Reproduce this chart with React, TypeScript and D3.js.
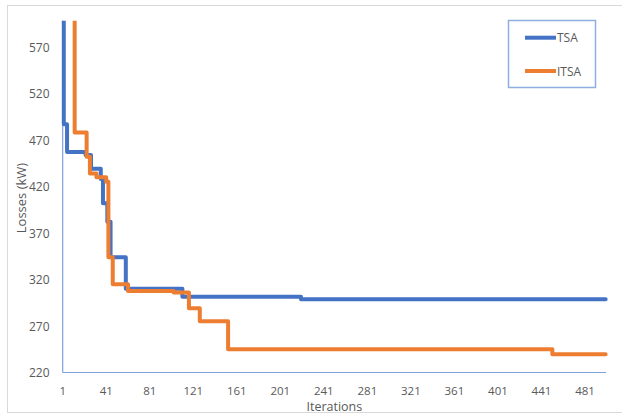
import React from "react";
import * as d3 from "d3";

// Convergence curves: [iteration, losses kW] at each improvement (held until next)
const tsaIterations = [1, 2, 5, 22, 27, 36, 38, 42, 45, 59, 111, 220, 500];
const tsaLosses = [660, 487, 457, 454, 439, 428, 402, 382, 344, 310, 301.5, 298.7, 298.7];

const itsaIterations = [1, 12, 23, 26, 32, 41, 43, 47, 61, 103, 117, 127, 153, 451, 500];
const itsaLosses = [700, 478, 452, 434, 430, 425, 344, 315, 307.6, 306, 289, 275.2, 244.9, 239.6, 239.6];

const xTicks = [1, 41, 81, 121, 161, 201, 241, 281, 321, 361, 401, 441, 481];
const yTicks = [220, 270, 320, 370, 420, 470, 520, 570];

const seriesNames = ["TSA", "ITSA"];
const seriesColors = ["#4472C4", "#ED7D31"];

const W = 622;
const H = 414;
const plotLeft = 62.7;
const plotRight = 606;
const plotTop = 20.7;
const plotBottom = 372.5;
const FONT = "'Open Sans', 'Liberation Sans', sans-serif";
const TEXT = "#595959";
const AXIS = "#7EA1DD";

export default function App() {
  const x = d3.scaleLinear().domain([1, 481]).range([plotLeft, 585]);
  const y = d3.scaleLinear().domain([220, 570]).range([plotBottom, 47]);

  const line = d3
    .line<[number, number]>()
    .x((d) => x(d[0]))
    .y((d) => y(d[1]))
    .curve(d3.curveStepAfter);

  const series = [
    tsaIterations.map((it, i) => [it, tsaLosses[i]] as [number, number]),
    itsaIterations.map((it, i) => [it, itsaLosses[i]] as [number, number]),
  ];

  return (
    <div style={{ position: "absolute", left: 0, top: 0 }}>
      <svg width={W} height={H} style={{ display: "block", background: "#fff" }}>
        <defs>
          <clipPath id="plotClip">
            <rect x={0} y={plotTop} width={W} height={plotBottom - plotTop + 10} />
          </clipPath>
        </defs>
        <rect x={7.5} y={5.5} width={620} height={407} fill="#fff" stroke="#D9D9D9" strokeWidth={1} />

        {/* axes lines */}
        <line x1={plotLeft} x2={plotLeft} y1={plotTop} y2={plotBottom} stroke={AXIS} strokeWidth={1.2} />
        <line x1={plotLeft} x2={plotRight} y1={plotBottom} y2={plotBottom} stroke={AXIS} strokeWidth={1.2} />

        {/* y tick labels */}
        {yTicks.map((t) => (
          <text
            key={"y" + t}
            x={49.5}
            y={y(t)}
            textAnchor="end"
            dominantBaseline="central"
            fontFamily={FONT}
            fontSize={12}
            fill={TEXT}
          >
            {t}
          </text>
        ))}

        {/* x tick labels */}
        {xTicks.map((t) => (
          <text
            key={"x" + t}
            x={x(t)}
            y={390.5}
            textAnchor="middle"
            dominantBaseline="central"
            fontFamily={FONT}
            fontSize={11.5}
            fill={TEXT}
          >
            {t}
          </text>
        ))}

        {/* axis titles */}
        <text
          x={(plotLeft + plotRight) / 2}
          y={406}
          textAnchor="middle"
          dominantBaseline="central"
          fontFamily={FONT}
          fontSize={12.5}
          fill={TEXT}
        >
          Iterations
        </text>
        <text
          transform={`translate(20.5,198) rotate(-90)`}
          textAnchor="middle"
          dominantBaseline="central"
          fontFamily={FONT}
          fontSize={13}
          fill={TEXT}
        >
          Losses (kW)
        </text>

        {/* series */}
        <g clipPath="url(#plotClip)">
          {series.map((s, i) => (
            <path
              key={seriesNames[i]}
              d={line(s) || ""}
              fill="none"
              stroke={seriesColors[i]}
              strokeWidth={4}
              strokeLinejoin="round"
              strokeLinecap="round"
            />
          ))}
        </g>

        {/* legend */}
        <rect x={508.5} y={20.5} width={87} height={67} fill="#fff" stroke="#8FAEE0" strokeWidth={1.5} />
        {seriesNames.map((n, i) => (
          <g key={"leg" + n}>
            <line
              x1={525}
              x2={556}
              y1={i === 0 ? 37.7 : 71}
              y2={i === 0 ? 37.7 : 71}
              stroke={seriesColors[i]}
              strokeWidth={4}
            />
            <text
              x={557}
              y={i === 0 ? 37.7 : 71}
              dominantBaseline="central"
              fontFamily={FONT}
              fontSize={12}
              fill={TEXT}
            >
              {n}
            </text>
          </g>
        ))}
      </svg>
    </div>
  );
}
